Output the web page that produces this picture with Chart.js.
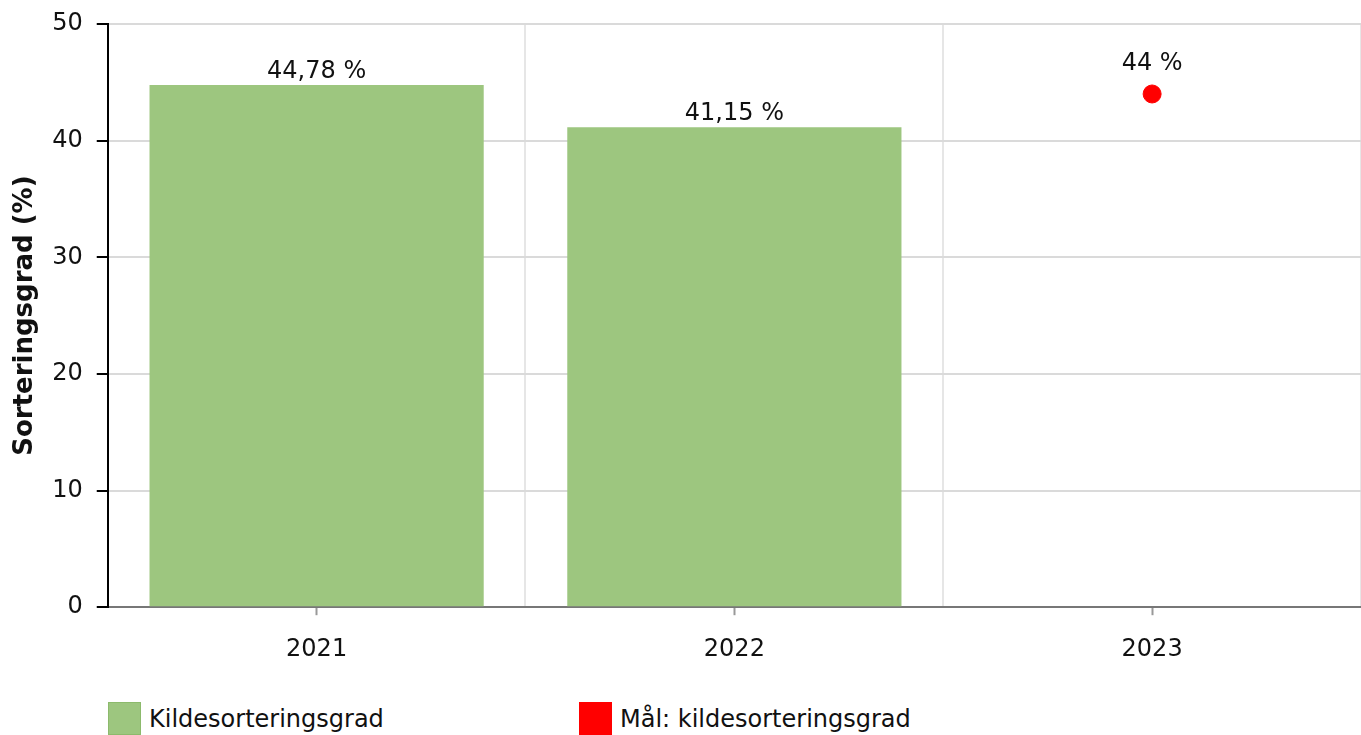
<!DOCTYPE html>
<html>
<head>
<meta charset="utf-8">
<script src="https://cdn.jsdelivr.net/npm/chart.js@4"></script>
<style>
  body { margin: 0; background: #fff; font-family: "DejaVu Sans", Verdana, sans-serif; }
  #wrap { position: relative; width: 1361px; height: 735px; overflow: hidden; }
  #box { position: absolute; left: 0; top: 0; width: 1361px; height: 684px; }
  .leg { position: absolute; top: 702px; display: flex; align-items: center; font-size: 24px; color: #111; }
  .leg span.sw { width: 31px; height: 31px; margin-right: 8px; }
</style>
</head>
<body>
<div id="wrap">
  <div id="box"><canvas id="sorting-chart"></canvas></div>
  <div class="leg" style="left:108px"><span class="sw" style="background:#9dc67f;border:1px solid #8cba6c"></span>Kildesorteringsgrad</div>
  <div class="leg" style="left:579px"><span class="sw" style="background:#ff0000;border:1px solid #ff0000"></span>Mål: kildesorteringsgrad</div>
</div>
<script>
// Kildesortering chart
var years = ['2021', '2022', '2023'];
var sortingRate = [44.78, 41.15, null];
var sortingGoal = [null, null, 44];
var yTicks = [0, 10, 20, 30, 40, 50];

var fontFamily = '"DejaVu Sans", Verdana, sans-serif';

function fmt(v) {
    return String(v).replace('.', ',') + ' %';
}

// value labels above bars and point
var valueLabels = {
    id: 'valueLabels',
    afterDatasetsDraw: function (chart) {
        var ctx = chart.ctx;
        ctx.save();
        ctx.font = '24px ' + fontFamily;
        ctx.fillStyle = '#111';
        ctx.textAlign = 'center';
        ctx.textBaseline = 'bottom';
        chart.data.datasets.forEach(function (ds, i) {
            var meta = chart.getDatasetMeta(i);
            meta.data.forEach(function (el, j) {
                var v = ds.data[j];
                if (v === null || v === undefined) return;
                var off = ds.type === 'line' ? 18 : 1;
                ctx.fillText(fmt(v), el.x, el.y - off);
            });
        });
        ctx.restore();
    }
};

var sortingChartCanvas = document.getElementById('sorting-chart');
var sortingChart = new Chart(sortingChartCanvas, {
    type: 'bar',
    data: {
        labels: years,
        datasets: [{
            label: 'Kildesorteringsgrad',
            data: sortingRate,
            backgroundColor: '#9dc67f',
            borderWidth: 0,
            categoryPercentage: 1,
            barPercentage: 0.8,
            xAxisID: 'x',
            order: 2
        }, {
            type: 'line',
            label: 'Mål: kildesorteringsgrad',
            data: sortingGoal,
            showLine: false,
            pointRadius: 9,
            pointBorderWidth: 1,
            pointBackgroundColor: '#ff0000',
            pointBorderColor: '#ff0000',
            xAxisID: 'x',
            order: 1
        }]
    },
    plugins: [valueLabels],
    options: {
        responsive: true,
        maintainAspectRatio: false,
        animation: false,
        // plot runs slightly past the right edge, like the original
        layout: { autoPadding: false, padding: { top: 24, right: -7, left: 7, bottom: 0 } },
        plugins: {
            legend: { display: false },
            tooltip: { enabled: false }
        },
        scales: {
            x: {
                type: 'category',
                offset: true,
                weight: 1,
                afterFit: function (scale) {
                    scale.paddingLeft = 0;
                    scale.paddingRight = 0;
                },
                grid: { offset: true, color: '#e6e6e6', lineWidth: 2, drawTicks: false },
                border: { display: false },
                ticks: { color: '#111', font: { size: 24, family: fontFamily }, padding: 20 }
            },
            x2: {
                type: 'category',
                position: 'bottom',
                offset: true,
                weight: 0,
                grid: { offset: false, drawOnChartArea: false, tickLength: 8, tickColor: '#999', tickWidth: 2 },
                border: { color: '#777', width: 2 },
                ticks: { display: false }
            },
            y: {
                min: 0,
                max: 50,
                afterBuildTicks: function (scale) {
                    scale.ticks = yTicks.map(function (v) { return { value: v }; });
                },
                afterFit: function (scale) {
                    scale.paddingTop = 0;
                    scale.paddingBottom = 0;
                    scale.width -= 3;
                },
                grid: { color: '#dadada', lineWidth: 2, tickColor: '#000', tickLength: 11, tickWidth: 2 },
                border: { color: '#000', width: 2 },
                ticks: { color: '#111', font: { size: 24, family: fontFamily }, padding: 14 },
                title: {
                    display: true,
                    text: 'Sorteringsgrad (%)',
                    color: '#111',
                    font: { size: 26, weight: 'bold', family: fontFamily },
                    padding: { top: 3, bottom: 0 }
                }
            }
        }
    }
});
</script>
</body>
</html>
